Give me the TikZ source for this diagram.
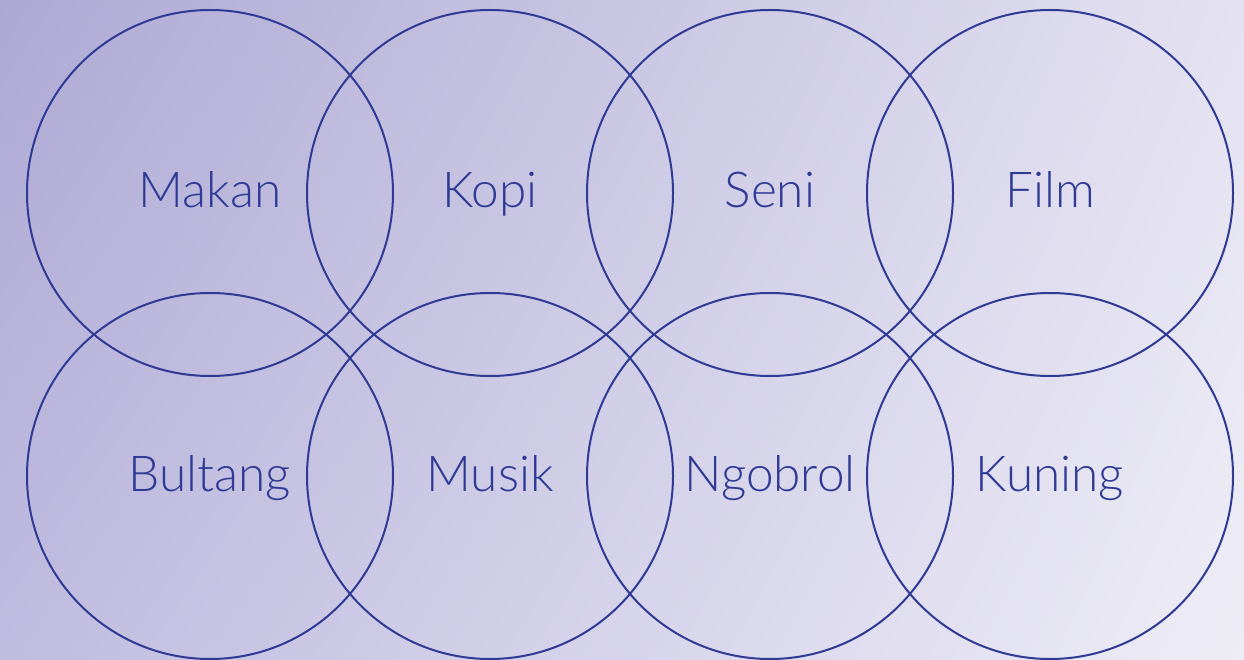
\documentclass[tikz,border=0pt]{standalone}
\usepackage{fontspec}
\setmainfont{Lato Light}
\usetikzlibrary{shadings}
\definecolor{ring}{HTML}{2E3A94}
\definecolor{cUL}{HTML}{ADA9D4}
\definecolor{cUR}{HTML}{E4E2F1}
\definecolor{cLL}{HTML}{C0BCE0}
\definecolor{cLR}{HTML}{EEEDF6}
\begin{document}
\begin{tikzpicture}[x=1pt,y=-1pt,
  ringc/.style={circle,draw=ring,line width=2pt,minimum size=366pt,inner sep=0pt,
    text height=35pt,text depth=5pt,
    text=ring,font=\fontsize{49.5}{52}\selectfont}]
\shade[upper left=cUL,upper right=cUR,lower left=cLL,lower right=cLR] (0,0) rectangle (1244,660);
\useasboundingbox (0,0) rectangle (1244,660);
\node[ringc] (makan) at (210,193) {Makan};
\node[ringc] (kopi) at (490,193) {Kopi};
\node[ringc] (seni) at (770,193) {Seni};
\node[ringc] (film) at (1050,193) {Film};
\node[ringc] (bultang) at (210,476) {Bultang};
\node[ringc] (musik) at (490,476) {Musik};
\node[ringc] (ngobrol) at (770,476) {Ngobrol};
\node[ringc] (kuning) at (1050,476) {Kuning};
\end{tikzpicture}
\end{document}
